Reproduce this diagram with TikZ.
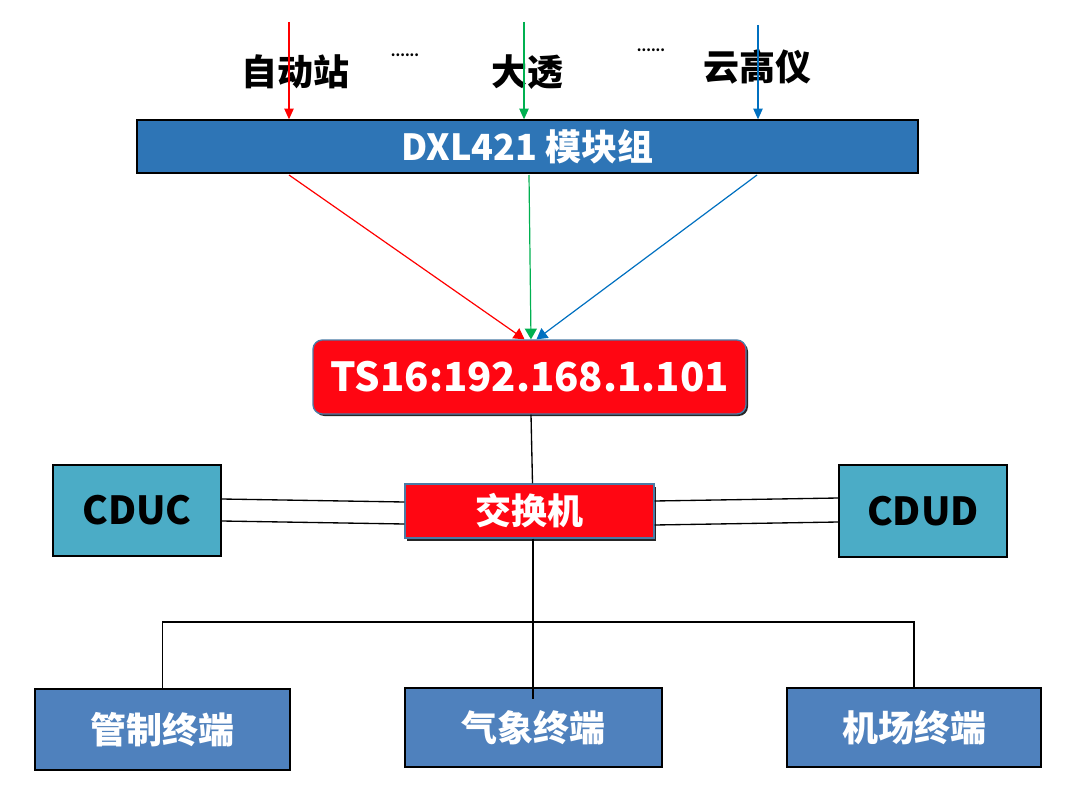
\documentclass[tikz,border=0pt]{standalone}
\usepackage{fontspec}
\setmainfont{Noto Sans CJK SC}
\usetikzlibrary{arrows.meta,calc,shadows}
\definecolor{barblue}{HTML}{2E75B6}
\definecolor{tsred}{HTML}{FF0612}
\definecolor{edgeblue}{HTML}{4A7BA6}
\definecolor{cduc}{HTML}{4BACC6}
\definecolor{termblue}{HTML}{4F81BD}
\definecolor{arrred}{HTML}{FF0000}
\definecolor{arrgreen}{HTML}{00B050}
\definecolor{arrblue}{HTML}{0070C0}
\tikzset{
  lbl/.style={font=\bfseries\fontsize{27}{30}\selectfont, inner sep=0pt},
  dots/.style={font=\bfseries\fontsize{10}{11}\selectfont, inner sep=0pt},
  bar/.style={draw=black, line width=1pt, fill=barblue, text=white, font=\bfseries\fontsize{27}{30}\selectfont, minimum width=585.75pt, minimum height=39.75pt, inner sep=0pt},
  tsbox/.style={draw=edgeblue, line width=1pt, fill=tsred, text=white, rounded corners=7pt, font=\bfseries\fontsize{30}{34}\selectfont, minimum width=324.75pt, minimum height=55.5pt, inner sep=0pt, drop shadow={shadow xshift=1.5pt, shadow yshift=-1.5pt, fill=black, opacity=0.85}},
  swbox/.style={draw=edgeblue, line width=1pt, fill=tsred, text=white, font=\bfseries\fontsize{27}{30}\selectfont, minimum width=186.75pt, minimum height=40.5pt, inner sep=0pt, drop shadow={shadow xshift=1.5pt, shadow yshift=-2pt, fill=black, opacity=0.85}},
  cdbox/.style={draw=black, line width=1pt, fill=cduc, text=black, font=\bfseries\fontsize{29}{32}\selectfont, minimum width=126pt, inner sep=0pt},
  termbox/.style={draw=black, line width=1.2pt, fill=termblue, text=white, font=\bfseries\fontsize{27}{30}\selectfont, inner sep=0pt},
  inarrow/.style={line width=0.9pt, -{Triangle[width=7pt,length=8pt]}},
  convline/.style={line width=0.9pt, -{Triangle[width=9pt,length=8pt]}},
  wire/.style={draw=black, line width=1pt},
}
\begin{document}
\begin{tikzpicture}[x=0.75pt,y=-0.75pt]
\useasboundingbox (0,0) rectangle (1080,798);
% top labels
\node[lbl] (zdz) at (295,72) {自动站};
\node[lbl] (dt) at (527,72) {大透};
\node[lbl] (ygy) at (757,67) {云高仪};
\node[dots] (d1) at (405,55) {......};
\node[dots] (d2) at (651,50) {......};
% bar
\node[bar] (dxl) at (527.5,146.5) {DXL421 模块组};
% incoming arrows
\coordinate (r0) at (289,22);
\coordinate (g0) at (524,22);
\coordinate (b0) at (758,25);
\draw[inarrow, arrred] (r0) -- (r0 |- dxl.north);
\draw[inarrow, arrgreen] (g0) -- (g0 |- dxl.north);
\draw[inarrow, arrblue] (b0) -- (b0 |- dxl.north);
% TS16
\node[tsbox] (ts) at (529.5,377) {TS16:192.168.1.101};
\draw[convline, arrred] (289,175) -- ($(ts.north)+(-5,0)$);
\draw[convline, arrgreen] (529,175) -- ($(ts.north)+(1.5,0)$);
\draw[convline, arrblue] (757,175) -- ($(ts.north)+(7,0)$);
% switch
\node[swbox] (sw) at (529.5,511) {交换机};
\draw[wire] ($(ts.south)+(1.5,0)$) -- ($(sw.north)+(3,0)$);
% CDUC / CDUD
\node[cdbox, minimum height=68.25pt] (cduc) at (137,510.5) {CDUC};
\node[cdbox, minimum height=69pt] (cdud) at (923,511) {CDUD};
\draw[wire] ($(cduc.east)+(0,-11.5)$) -- ($(sw.west)+(0,-9)$);
\draw[wire] ($(cduc.east)+(0,10.5)$) -- ($(sw.west)+(0,13)$);
\draw[wire] ($(sw.east)+(0,-10)$) -- ($(cdud.west)+(0,-13)$);
\draw[wire] ($(sw.east)+(0,14)$) -- ($(cdud.west)+(0,11)$);
% terminals
\node[termbox, minimum width=191.25pt, minimum height=60.75pt] (gz) at (162.5,729.5) {管制终端};
\node[termbox, minimum width=192.75pt, minimum height=59.25pt] (qx) at (533.5,727.5) {气象终端};
\node[termbox, minimum width=190.5pt, minimum height=59.25pt] (jc) at (914,727.5) {机场终端};
\coordinate (hb) at (533,622);
\coordinate (qend) at (533,699);
\draw[wire] ($(sw.south)+(3.5,0)$) -- (qend);
\draw[wire] (gz.north) |- (hb) -| (jc.north);
\end{tikzpicture}
\end{document}
